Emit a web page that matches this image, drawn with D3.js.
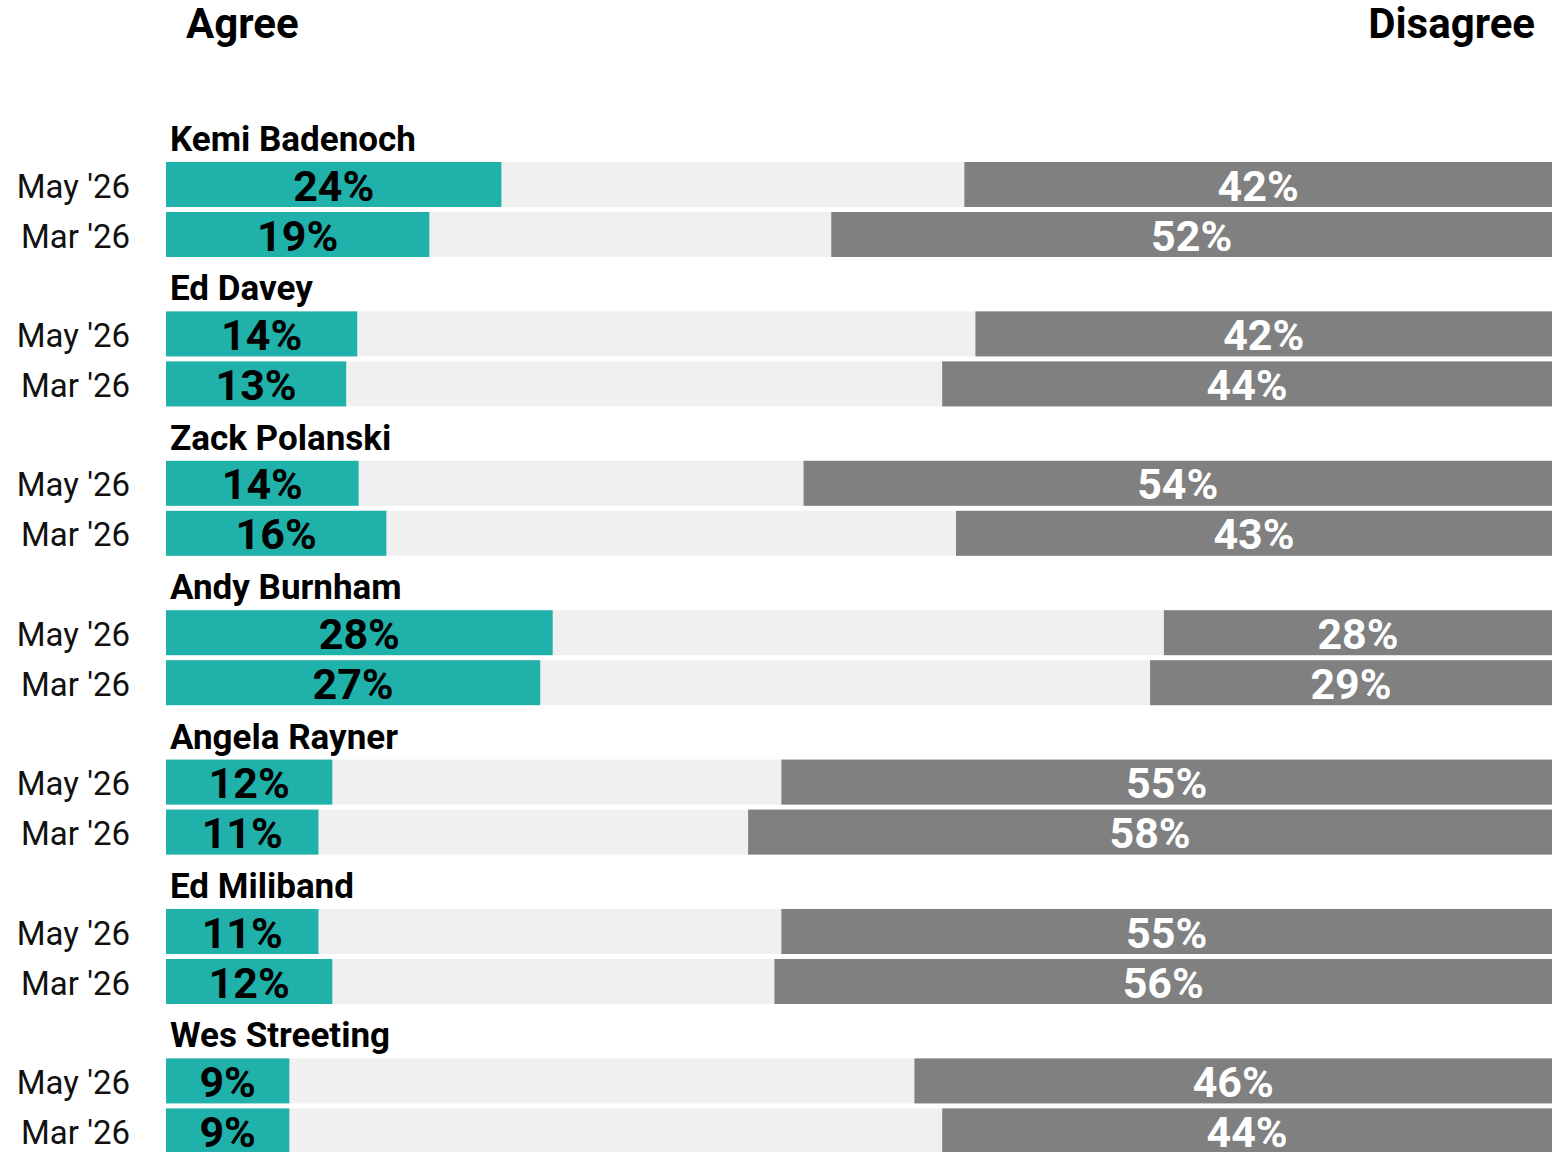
<!DOCTYPE html>
<html>
<head>
<meta charset="utf-8">
<script src="https://cdn.jsdelivr.net/npm/d3@7"></script>
<style>
  body { margin: 0; background: #fff; overflow: hidden; }
  svg { display: block; font-family: Roboto, "Noto Sans", sans-serif; }
</style>
</head>
<body>
<div id="chart"></div>
<script>
var width = 1567, height = 1152;

// data (bar lengths are estimated, labels are as printed)
const names = ['Kemi Badenoch', 'Ed Davey', 'Zack Polanski', 'Andy Burnham',
               'Angela Rayner', 'Ed Miliband', 'Wes Streeting'];
const waves = ["May '26", "Mar '26"];
const agreeMay = [24.2, 13.8, 13.9, 27.9, 12.0, 11.0, 8.9];
const agreeMar = [19.0, 13.0, 15.9, 27.0, 11.0, 12.0, 8.9];
const disagreeMay = [42.4, 41.6, 54.0, 28.0, 55.6, 55.6, 46.0];
const disagreeMar = [52.0, 44.0, 43.0, 29.0, 58.0, 56.1, 44.0];
const agreeMayLabel = [24, 14, 14, 28, 12, 11, 9];
const agreeMarLabel = [19, 13, 16, 27, 11, 12, 9];
const disagreeMayLabel = [42, 42, 54, 28, 55, 55, 46];
const disagreeMarLabel = [52, 44, 43, 29, 58, 56, 44];

var rows = [];
names.forEach(function (n, i) {
    rows.push({ name: n, wave: waves[0], agree: agreeMay[i], disagree: disagreeMay[i],
                agreeLbl: agreeMayLabel[i], disagreeLbl: disagreeMayLabel[i] });
    rows.push({ name: n, wave: waves[1], agree: agreeMar[i], disagree: disagreeMar[i],
                agreeLbl: agreeMarLabel[i], disagreeLbl: disagreeMarLabel[i] });
});

var svg = d3.select('#chart').append('svg')
    .attr('width', width)
    .attr('height', height);

var x = d3.scaleLinear().domain([0, 100]).range([166, 1552]);

var yGroup = d3.scaleBand().domain(names).range([112, 112 + names.length * 149.4]);
var yRow = d3.scaleBand().domain(waves).range([50, 145]).paddingInner(0.1);

// column headers
svg.append('text')
    .attr('x', 186).attr('y', 38)
    .attr('font-size', 42).attr('font-weight', 700)
    .text('Agree');
svg.append('text')
    .attr('x', 1535).attr('y', 38)
    .attr('text-anchor', 'end')
    .attr('font-size', 42).attr('font-weight', 700)
    .text('Disagree');

var groups = svg.selectAll('g.group')
    .data(names)
    .join('g')
    .attr('class', 'group')
    .attr('transform', d => `translate(0,${yGroup(d)})`);

groups.append('text')
    .attr('x', 170)
    .attr('y', yRow(waves[0]) - 11)
    .attr('font-size', 35)
    .attr('font-weight', 700)
    .text(d => d);

var bh = yRow.bandwidth();

var row = svg.selectAll('g.row')
    .data(rows)
    .join('g')
    .attr('class', 'row')
    .attr('transform', d => `translate(0,${yGroup(d.name) + yRow(d.wave)})`);

// neutral background
row.append('rect')
    .attr('x', x(0))
    .attr('width', x(100) - x(0))
    .attr('height', bh)
    .attr('fill', '#f0f0f0');

row.append('rect')
    .attr('x', x(0))
    .attr('width', d => x(d.agree) - x(0))
    .attr('height', bh)
    .attr('fill', '#20b2aa');

row.append('rect')
    .attr('x', d => x(100 - d.disagree))
    .attr('width', d => x(100) - x(100 - d.disagree))
    .attr('height', bh)
    .attr('fill', '#808080');

row.append('text')
    .attr('x', 130)
    .attr('y', bh / 2 + 13)
    .attr('text-anchor', 'end')
    .attr('font-size', 33)
    .attr('fill', '#111')
    .text(d => d.wave);

row.append('text')
    .attr('x', d => (x(0) + x(d.agree)) / 2)
    .attr('y', bh / 2 + 16)
    .attr('text-anchor', 'middle')
    .attr('font-size', 43)
    .attr('font-weight', 700)
    .attr('fill', '#000')
    .text(d => d.agreeLbl + '%');

row.append('text')
    .attr('x', d => (x(100 - d.disagree) + x(100)) / 2)
    .attr('y', bh / 2 + 16)
    .attr('text-anchor', 'middle')
    .attr('font-size', 43)
    .attr('font-weight', 700)
    .attr('fill', '#fff')
    .text(d => d.disagreeLbl + '%');
</script>
</body>
</html>
